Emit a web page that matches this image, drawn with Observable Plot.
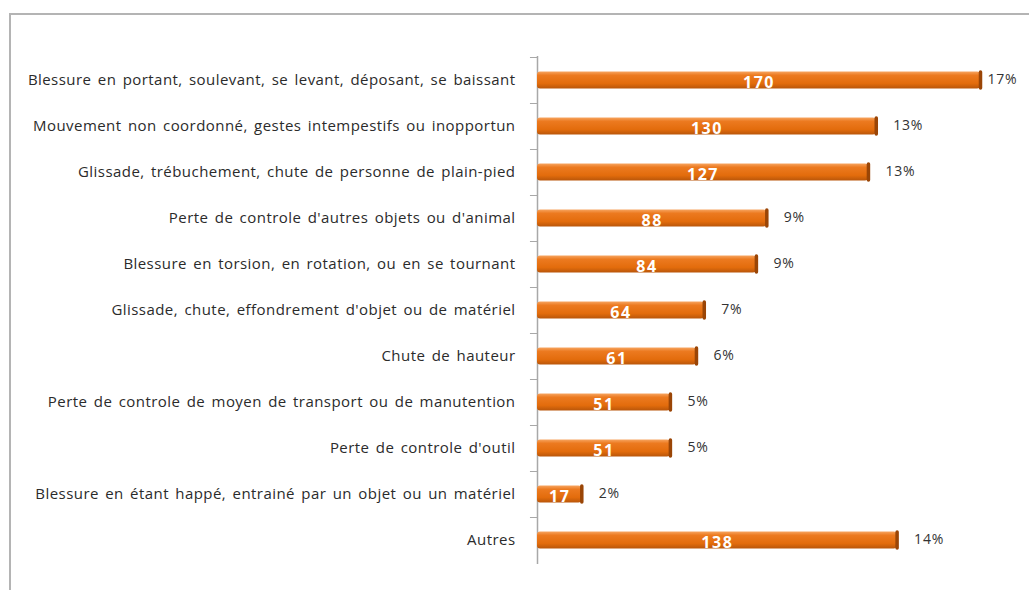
<!DOCTYPE html>
<html>
<head>
<meta charset="utf-8">
<script src="https://cdn.jsdelivr.net/npm/d3@7"></script>
<script src="https://cdn.jsdelivr.net/npm/@observablehq/plot@0.6"></script>
<style>
  html, body { margin: 0; padding: 0; background: #fff; }
  #wrap { position: relative; width: 1029px; height: 590px; overflow: hidden; }
  #frame { position: absolute; left: 9px; top: 13px; width: 1040px; height: 600px;
           border-top: 2px solid #b4b4b4; border-left: 2px solid #b4b4b4; }
  #chart { position: absolute; left: 0; top: 0; }
</style>
</head>
<body>
<div id="wrap"><div id="frame"></div><div id="chart"></div></div>
<script>
const categories = [
  "Blessure en portant, soulevant, se levant, déposant, se baissant",
  "Mouvement non coordonné, gestes intempestifs ou inopportun",
  "Glissade, trébuchement, chute de personne de plain-pied",
  "Perte de controle d'autres objets ou d'animal",
  "Blessure en torsion, en rotation, ou en se tournant",
  "Glissade, chute, effondrement d'objet ou de matériel",
  "Chute de hauteur",
  "Perte de controle de moyen de transport ou de manutention",
  "Perte de controle d'outil",
  "Blessure en étant happé, entrainé par un objet ou un matériel",
  "Autres"
];
const counts = [170, 130, 127, 88, 84, 64, 61, 51, 51, 17, 138];
const percents = ["17%", "13%", "13%", "9%", "9%", "7%", "6%", "5%", "5%", "2%", "14%"];

const data = categories.map((c, i) => ({cat: c, value: counts[i], pct: percents[i]}));
const maxVal = d3.max(counts);

const font = "'Open Sans', 'Liberation Sans', Arial, sans-serif";

const plot = Plot.plot({
  width: 1029,
  height: 590,
  marginLeft: 537,
  marginRight: 49,
  marginTop: 56,
  marginBottom: 26,
  style: {fontFamily: font, background: "transparent", overflow: "visible"},
  x: {domain: [0, maxVal], axis: null},
  y: {domain: categories, padding: 0, label: null},
  marks: [
    Plot.axisY({tickSize: 0, tickPadding: 22, fontSize: 15, fill: "#2b2b2b", label: null}),
    Plot.ruleX([0], {stroke: "#a8a8a8", strokeWidth: 1.5}),
    Plot.ruleY(categories, {y: d => d, dy: -23, x1: -2.7, x2: 0, stroke: "#a8a8a8"}),
    Plot.barX(data, {x: "value", y: "cat", insetTop: 14.5, insetBottom: 14.5, fill: "url(#barGrad)", rx: 3}),
    Plot.tickX(data, {x: "value", y: "cat", insetTop: 15, insetBottom: 15, stroke: "#9a4506", strokeWidth: 3.5, strokeLinecap: "round"}),
    Plot.text(data, {x: d => d.value / 2, y: "cat", text: d => String(d.value), fill: "#ffffff",
      fontSize: 16, fontWeight: "bold", dy: 2, className: "vlabel"}),
    Plot.text(data.filter(d => d.value !== maxVal), {x: "value", y: "cat", text: "pct", textAnchor: "start",
      dx: 17, dy: -1, fontSize: 14, fill: "#333", className: "plabel"}),
    Plot.text(data.filter(d => d.value === maxVal), {x: "value", y: "cat", text: "pct", textAnchor: "start",
      dx: 7, dy: -1, fontSize: 14, fill: "#333", className: "plabel"})
  ]
});

const svg = d3.select(plot);
const defs = svg.insert("defs", ":first-child");
const g = defs.append("linearGradient").attr("id", "barGrad").attr("x1", 0).attr("y1", 0).attr("x2", 0).attr("y2", 1);
g.append("stop").attr("offset", "0%").attr("stop-color", "#f7a561");
g.append("stop").attr("offset", "22%").attr("stop-color", "#ec7a20");
g.append("stop").attr("offset", "70%").attr("stop-color", "#e36c0c");
g.append("stop").attr("offset", "100%").attr("stop-color", "#b9560a");

svg.selectAll('g[aria-label="y-axis tick label"] text')
  .style("letter-spacing", "0.45px").style("word-spacing", "2px");
svg.selectAll('.vlabel text').style("letter-spacing", "1.5px");
svg.selectAll('.plabel text').style("letter-spacing", "0.8px");

document.getElementById("chart").appendChild(plot);
</script>
</body>
</html>
